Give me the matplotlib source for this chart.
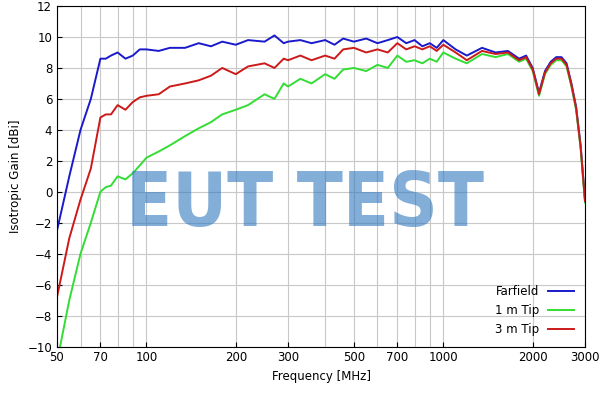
import matplotlib
matplotlib.use("Agg")
import matplotlib.pyplot as plt

freq_ff = [50,55,60,65,70,73,76,80,85,90,95,100,110,120,135,150,165,180,200,220,250,270,290,300,330,360,400,430,460,500,550,600,650,700,750,800,850,900,950,1000,1100,1200,1350,1500,1650,1800,1900,2000,2100,2200,2300,2400,2500,2600,2700,2800,2900,3000]
farfield = [-2.5,1,4,6,8.6,8.6,8.8,9.0,8.6,8.8,9.2,9.2,9.1,9.3,9.3,9.6,9.4,9.7,9.5,9.8,9.7,10.1,9.6,9.7,9.8,9.6,9.8,9.5,9.9,9.7,9.9,9.6,9.8,10.0,9.6,9.8,9.4,9.6,9.3,9.8,9.2,8.8,9.3,9.0,9.1,8.6,8.8,8.0,6.4,7.8,8.4,8.7,8.7,8.3,7.0,5.5,3.0,-0.5]

freq = [50,55,60,65,70,73,76,80,85,90,95,100,110,120,135,150,165,180,200,220,250,270,290,300,330,360,400,430,460,500,550,600,650,700,750,800,850,900,950,1000,1100,1200,1350,1500,1650,1800,1900,2000,2100,2200,2300,2400,2500,2600,2700,2800,2900,3000]
tip3m = [-6.8,-3,-0.5,1.5,4.8,5.0,5.0,5.6,5.3,5.8,6.1,6.2,6.3,6.8,7.0,7.2,7.5,8.0,7.6,8.1,8.3,8.0,8.6,8.5,8.8,8.5,8.8,8.6,9.2,9.3,9.0,9.2,9.0,9.6,9.2,9.4,9.2,9.4,9.1,9.5,9.0,8.5,9.1,8.9,9.0,8.5,8.7,7.9,6.3,7.7,8.3,8.6,8.6,8.2,6.9,5.4,2.9,-0.6]
tip1m = [-11,-7,-4,-2,0,0.3,0.4,1.0,0.8,1.2,1.7,2.2,2.6,3.0,3.6,4.1,4.5,5.0,5.3,5.6,6.3,6.0,7.0,6.8,7.3,7.0,7.6,7.3,7.9,8.0,7.8,8.2,8.0,8.8,8.4,8.5,8.3,8.6,8.4,9.0,8.6,8.3,8.9,8.7,8.9,8.4,8.6,7.8,6.2,7.6,8.2,8.5,8.5,8.1,6.8,5.3,2.8,-0.7]

xticks = [50,70,100,200,300,500,700,1000,2000,3000]
grid_x = [50,60,70,80,90,100,200,300,400,500,600,700,800,900,1000,2000,3000]

fig, ax = plt.subplots(figsize=(6.0,4.03), dpi=100)
fig.subplots_adjust(left=0.095, right=0.975, top=0.985, bottom=0.14)
ax.plot(freq_ff, farfield, color="#1a1acc", lw=1.4, label="Farfield")
ax.plot(freq, tip1m, color="#33dd33", lw=1.4, label="1 m Tip")
ax.plot(freq, tip3m, color="#cc1a1a", lw=1.4, label="3 m Tip")
ax.set_xscale("log")
ax.set_xlim(50,3000)
ax.set_ylim(-10,12)
ax.set_xticks(xticks)
ax.set_xticklabels([str(v) for v in xticks])
ax.xaxis.set_minor_locator(matplotlib.ticker.NullLocator())
ax.set_yticks(range(-10,13,2))
for g in grid_x:
    ax.axvline(g, color="#c8c8c8", lw=0.8, zorder=0)
for y in range(-10,13,2):
    ax.axhline(y, color="#c8c8c8", lw=0.8, zorder=0)
ax.tick_params(labelsize=8.5, direction="in")
ax.set_xlabel("Frequency [MHz]", fontsize=8.5)
ax.set_ylabel("Isotropic Gain [dBi]", fontsize=8.5)
ax.legend(loc="lower right", frameon=False, markerfirst=False, fontsize=8.5, handlelength=2.2)
fig.text(0.508, 0.49, "EUT TEST", fontsize=54, color="#2f78bf", alpha=0.6, ha="center", va="center",
         family="DejaVu Sans", stretch="condensed", fontweight="bold")
fig.savefig("out.png")
